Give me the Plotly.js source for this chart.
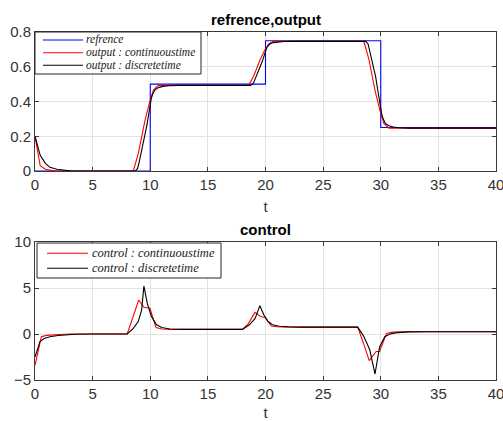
<!DOCTYPE html>
<html><head><meta charset="utf-8">
<script src="https://cdn.plot.ly/plotly-3.0.1.min.js"></script>
<style>html,body{margin:0;padding:0;background:#fff}#chart{width:503px;height:421px}</style>
</head><body><div id="chart"></div>
<script>
// ---- data ----
const refT = [0,10,10,20,20,30,30,40];
const refY = [0,0,0.5,0.5,0.75,0.75,0.25,0.25];

const outContT = [0,0.45,0.9,1.5,2,8.53,8.96,9.25,9.54,9.92,10.27,10.7,12,18.53,18.96,19.25,19.54,19.92,20.27,20.7,22,28.53,28.96,29.25,29.54,29.92,30.27,30.7,32,40];
const outContY = [0.2,0.03,0.01,0.002,0,0,0.1,0.2,0.29,0.39,0.466,0.493,0.493,0.493,0.544,0.594,0.642,0.693,0.732,0.746,0.746,0.746,0.646,0.546,0.452,0.352,0.274,0.247,0.247,0.247];

const outDiscT = [0,0.2,0.45,0.9,1.3,1.9,2.5,3.2,
  8.7,8.9,9.0,9.2,9.4,9.55,9.7,9.8,9.9,10.0,10.1,10.2,10.4,10.7,11.1,11.6,12.5,
  18.7,18.9,19.0,19.2,19.4,19.55,19.7,19.8,19.9,20.0,20.1,20.2,20.4,20.7,21.1,21.6,22.5,
  28.7,28.9,29.0,29.2,29.4,29.55,29.7,29.8,29.9,30.0,30.1,30.2,30.4,30.7,31.1,31.6,32.5,40];
const outDiscY = [0.2,0.15,0.09,0.044,0.021,0.01,0.004,0,
  0,0.015,0.04,0.1,0.16,0.2,0.26,0.3,0.35,0.39,0.42,0.44,0.466,0.48,0.487,0.491,0.493,
  0.493,0.501,0.513,0.544,0.574,0.594,0.627,0.647,0.673,0.693,0.708,0.718,0.732,0.739,0.743,0.745,0.746,
  0.746,0.731,0.706,0.646,0.586,0.546,0.482,0.442,0.392,0.352,0.322,0.302,0.274,0.26,0.253,0.249,0.247,0.247];

const ctrlContT = [0,0.3,0.55,1,2,3,8,8.5,9,9.45,9.97,10.5,11,12,18,18.5,19.08,19.57,19.95,20.5,21,22,28,28.5,29,29.6,29.9,30.5,31,32,40];
const ctrlContY = [-3.4,-1.5,-0.3,-0.15,-0.05,0,0,1.9,3.7,2.9,2.8,0.7,0.55,0.5,0.5,1.1,2.35,1.9,1.8,0.87,0.78,0.75,0.75,-1.0,-2.9,-1.9,-1.9,0.07,0.2,0.25,0.25];

const ctrlDiscT = [0,0.43,0.8,1.3,2,2.7,3.5,5,8,8.5,8.96,9.25,9.45,9.75,10.1,10.55,11,11.7,13,18,18.6,19.1,19.51,19.85,20.2,20.6,21.2,22,23,28,28.5,28.8,29.05,29.5,29.9,30.35,30.8,31.4,32.5,34,40];
const ctrlDiscY = [-2.5,-0.83,-0.5,-0.3,-0.17,-0.1,-0.03,0,0,0.55,1.35,2.6,5.2,3.3,1.9,1.0,0.7,0.55,0.5,0.5,1.0,1.7,3.08,2.1,1.4,1.0,0.85,0.78,0.75,0.75,-0.2,-1.0,-1.74,-4.35,-1.4,-0.3,0.0,0.15,0.23,0.25,0.25];

const topLegendLabels = ['refrence','output : continuoustime','output : discretetime'];
const botLegendLabels = ['control : continuoustime','control : discretetime'];
const xTickVals = [0,5,10,15,20,25,30,35,40];

// ---- styles ----
const W = 503, H = 421;
const M = {l:35, r:7, t:32, b:41};
const PW = W - M.l - M.r, PH = H - M.t - M.b;
const px = x => (x - M.l) / PW;
const py = y => (H - M.b - y) / PH;
const AX = '#3a3a3a', GRID = '#e2e2e2', TXT = '#333333';
const SANS = 'Liberation Sans, Arial, sans-serif';
const SERIF = 'Liberation Serif, Times New Roman, serif';

const traces = [
  {x:refT, y:refY, name:topLegendLabels[0], xaxis:'x', yaxis:'y', mode:'lines', line:{color:'#0000ff', width:1.1}},
  {x:outContT, y:outContY, name:topLegendLabels[1], xaxis:'x', yaxis:'y', mode:'lines', line:{color:'#ff0000', width:1.1}},
  {x:outDiscT, y:outDiscY, name:topLegendLabels[2], xaxis:'x', yaxis:'y', mode:'lines', line:{color:'#000000', width:1.1}},
  {x:ctrlContT, y:ctrlContY, name:botLegendLabels[0], xaxis:'x2', yaxis:'y2', mode:'lines', line:{color:'#ff0000', width:1.1}},
  {x:ctrlDiscT, y:ctrlDiscY, name:botLegendLabels[1], xaxis:'x2', yaxis:'y2', mode:'lines', line:{color:'#000000', width:1.1}}
];
traces.forEach(t => t.showlegend = false);

function axisBase(){
  return {showline:true, linecolor:AX, linewidth:1, mirror:'ticks', ticks:'inside', ticklen:4, tickcolor:AX,
    showgrid:true, gridcolor:GRID, gridwidth:1, zeroline:false, ticklabeloverflow:'allow',
    tickfont:{family:SANS, size:15, color:TXT}, fixedrange:true};
}
const xa = Object.assign(axisBase(), {domain:[0,1], anchor:'y', range:[0,40], tickvals:xTickVals, title:{text:'t', font:{family:SANS, size:15, color:TXT}, standoff:9}});
const ya = Object.assign(axisBase(), {domain:[py(171),1], anchor:'x', range:[0,0.8], dtick:0.2});
const xa2 = Object.assign(axisBase(), {domain:[0,1], anchor:'y2', range:[0,40], tickvals:xTickVals, title:{text:'t', font:{family:SANS, size:15, color:TXT}, standoff:6}});
const ya2 = Object.assign(axisBase(), {domain:[0,py(242)], anchor:'x2', range:[-5,10], dtick:5});

// ---- hand-built MATLAB-style legends ----
const shapes = [], annotations = [];
function legend(box, lineX0, lineX1, textX, rows, items, fontSize){
  shapes.push({type:'rect', xref:'paper', yref:'paper', x0:px(box[0]), x1:px(box[1]), y0:py(box[3]), y1:py(box[2]),
    line:{color:'#262626', width:1}, fillcolor:'#ffffff', layer:'above'});
  items.forEach((tr, i) => {
    shapes.push({type:'line', xref:'paper', yref:'paper', x0:px(lineX0), x1:px(lineX1), y0:py(rows[i]), y1:py(rows[i]),
      line:{color:tr.line.color, width:1.1}, layer:'above'});
    annotations.push({xref:'paper', yref:'paper', x:px(textX), y:py(rows[i]), xanchor:'left', yanchor:'middle',
      text:'<i>'+tr.name+'</i>', showarrow:false, borderpad:0, font:{family:SERIF, size:fontSize, color:'#222'}});
  });
}
legend([35,201,32,74], 43, 83, 85, [40,52.7,65.3], traces.slice(0,3), 11.5);
legend([37,221,243,278], 47, 88, 91, [253.3,268.3], traces.slice(3,5), 12.5);

annotations.push({xref:'paper', yref:'paper', x:px(265.5), y:py(19), xanchor:'center', yanchor:'middle', showarrow:false,
  text:'<b>refrence,output</b>', font:{family:SANS, size:15, color:'#000'}});
annotations.push({xref:'paper', yref:'paper', x:px(265.5), y:py(229), xanchor:'center', yanchor:'middle', showarrow:false,
  text:'<b>control</b>', font:{family:SANS, size:15, color:'#000'}});

const layout = {width:W, height:H, margin:M, paper_bgcolor:'#fff', plot_bgcolor:'#fff', showlegend:false,
  xaxis:xa, yaxis:ya, xaxis2:xa2, yaxis2:ya2, shapes:shapes, annotations:annotations, font:{family:SANS}};

Plotly.newPlot('chart', traces, layout, {staticPlot:true, displayModeBar:false});
</script></body></html>
